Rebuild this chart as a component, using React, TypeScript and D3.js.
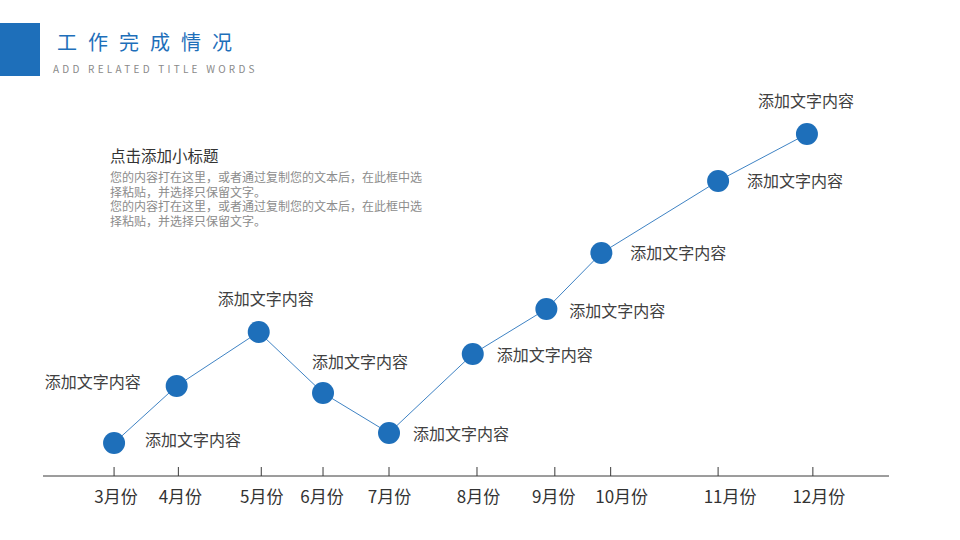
import React from "react";
import * as d3 from "d3";

const months = ["3月份", "4月份", "5月份", "6月份", "7月份", "8月份", "9月份", "10月份", "11月份", "12月份"];
const tickPos = [8.4, 16.0, 25.8, 33.1, 40.9, 51.3, 60.5, 67.1, 79.8, 91.0];
const pointPos = [8.4, 15.8, 25.5, 33.1, 40.9, 50.8, 59.5, 66.0, 79.8, 90.3];
const values = [8.25, 22.5, 36, 20.75, 10.75, 30.5, 41.75, 55.75, 73.75, 85.5];
const labels = ["添加文字内容", "添加文字内容", "添加文字内容", "添加文字内容", "添加文字内容", "添加文字内容", "添加文字内容", "添加文字内容", "添加文字内容", "添加文字内容"];
// label placement relative to point: [dx, dy, anchor]
const labelOffsets: [number, number, string][] = [
  [31, 3, "start"],
  [-36, 2, "end"],
  [7, -27, "middle"],
  [37, -25, "middle"],
  [24, 7, "start"],
  [24, 7, "start"],
  [23, 8, "start"],
  [29, 6, "start"],
  [29, 6, "start"],
  [-1, -27, "middle"],
];
// horizontal shift of each month label from its tick
const tickLabelShift = [2, 2, 0.5, -1, 0.5, 1.5, -1, 11, 12, 6];

const title = "工作完成情况";
const subtitle = "ADD RELATED TITLE WORDS";
const blockTitle = "点击添加小标题";
const blockLines = [
  "您的内容打在这里，或者通过复制您的文本后，在此框中选",
  "择粘贴，并选择只保留文字。",
  "您的内容打在这里，或者通过复制您的文本后，在此框中选",
  "择粘贴，并选择只保留文字。",
];

const W = 960;
const H = 540;
const FONT = "'Noto Sans CJK SC', 'Noto Sans', sans-serif";
const BLUE = "#1e6fba";

export default function App() {
  const x = d3.scaleLinear().domain([0, 100]).range([43, 889]);
  const y = d3.scaleLinear().domain([0, 100]).range([476, 76]);
  const axisY = y(0);
  const pts = values.map((v, i) => [x(pointPos[i]), y(v)] as [number, number]);
  const line = d3.line<[number, number]>().x((d) => d[0]).y((d) => d[1]);

  return (
    <svg width={W} height={H} style={{ position: "absolute", left: 0, top: 0, background: "#fff" }} fontFamily={FONT}>
      <rect x={0} y={0} width={W} height={H} fill="#fff" />
      <rect x={0} y={23} width={40} height={53} fill={BLUE} />
      <text x={57} y={50} fontSize={20} fill={BLUE} letterSpacing={11}>{title}</text>
      <text x={53} y={73} fontSize={10} fill="#8a8a8a" letterSpacing={3.25}>{subtitle}</text>

      <text x={110} y={162} fontSize={15.5} fill="#333">{blockTitle}</text>
      <foreignObject x={110} y={170} width={330} height={64}>
        <div
          style={{
            fontFamily: FONT,
            fontSize: "12px",
            lineHeight: "14.5px",
            color: "#8c8c8c",
            whiteSpace: "pre",
            margin: 0,
            padding: 0,
          }}
        >
          {blockLines.join("\n")}
        </div>
      </foreignObject>

      <line x1={43} x2={889} y1={axisY} y2={axisY} stroke="#3a3a3a" strokeWidth={1} />
      {months.map((m, i) => (
        <g key={m}>
          <line x1={x(tickPos[i])} x2={x(tickPos[i])} y1={axisY - 9} y2={axisY} stroke="#3a3a3a" strokeWidth={1} />
          <text x={x(tickPos[i]) + tickLabelShift[i]} y={503} fontSize={17} fill="#333" textAnchor="middle">{m}</text>
        </g>
      ))}

      <path d={line(pts) || ""} fill="none" stroke="#3f83c4" strokeWidth={1} />
      {pts.map((p, i) => (
        <circle key={i} cx={p[0]} cy={p[1]} r={11} fill={BLUE} />
      ))}
      {pts.map((p, i) => (
        <text key={"l" + i} x={p[0] + labelOffsets[i][0]} y={p[1] + labelOffsets[i][1]} fontSize={16} fill="#404040" textAnchor={labelOffsets[i][2] as any}>
          {labels[i]}
        </text>
      ))}
    </svg>
  );
}
